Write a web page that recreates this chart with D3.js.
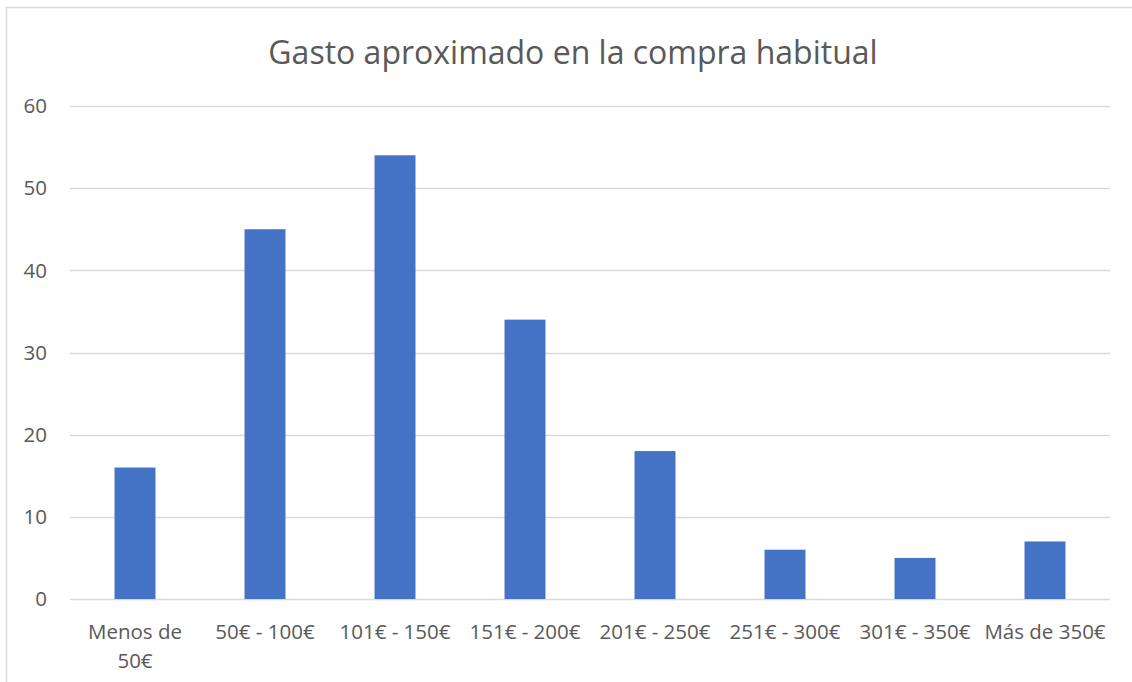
<!DOCTYPE html>
<html><head><meta charset="utf-8">
<script src="https://cdn.jsdelivr.net/npm/d3@7"></script>
<style>body{margin:0;background:#fff;}svg{display:block;font-family:"Open Sans",Calibri,sans-serif;}</style>
</head><body>
<svg id="c" width="1132" height="682"></svg>
<script>
const categories = [["Menos de","50€"],["50€ - 100€"],["101€ - 150€"],["151€ - 200€"],["201€ - 250€"],["251€ - 300€"],["301€ - 350€"],["Más de 350€"]];
const values = [16,45,54,34,18,6,5,7];
const yTicks = [0,10,20,30,40,50,60];
const title = "Gasto aproximado en la compra habitual";

const svg = d3.select("#c");
svg.append("rect").attr("x",6.5).attr("y",7.5).attr("width",1140).attr("height",700)
  .attr("fill","#fff").attr("stroke","#d9d9d9").attr("stroke-width",1.5);

const x = d3.scaleBand().domain(d3.range(values.length)).range([70,1110]).paddingInner(0.685).paddingOuter(0.3425);
const y = d3.scaleLinear().domain([0,60]).range([599,106]);

svg.append("g").selectAll("line").data(yTicks).join("line")
  .attr("x1",70).attr("x2",1110).attr("y1",d=>Math.round(y(d))+0.5).attr("y2",d=>Math.round(y(d))+0.5)
  .attr("stroke","#d9d9d9").attr("stroke-width",1.3);

svg.append("g").selectAll("text").data(yTicks).join("text")
  .attr("x",47).attr("y",d=>y(d)).attr("dy","0.35em").attr("text-anchor","end")
  .attr("fill","#595959").attr("font-size",20.5).text(d=>d);

svg.append("g").selectAll("rect").data(values).join("rect")
  .attr("x",(d,i)=>x(i)).attr("width",x.bandwidth())
  .attr("y",d=>y(d)).attr("height",d=>y(0)-y(d)).attr("fill","#4472c4");

const lab = svg.append("g").selectAll("text").data(categories).join("text")
  .attr("text-anchor","middle").attr("fill","#595959").attr("font-size",20.5)
  .attr("transform",(d,i)=>`translate(${x(i)+x.bandwidth()/2},639)`);
lab.selectAll("tspan").data(d=>d).join("tspan").attr("x",0).attr("dy",(d,i)=>i?29:0).text(d=>d);

svg.append("text").attr("x",573).attr("y",64).attr("text-anchor","middle")
  .attr("fill","#595959").attr("font-size",32).text(title);
</script>
</body></html>
